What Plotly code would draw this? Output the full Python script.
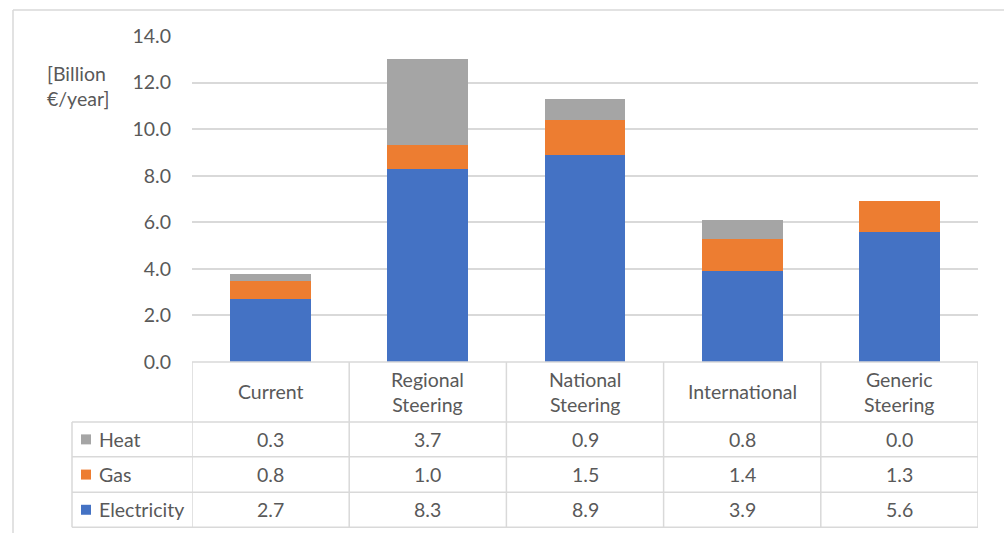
import plotly.graph_objects as go

categories = ["Current", "Regional Steering", "National Steering", "International", "Generic Steering"]
header_labels = ["Current", "Regional<br>Steering", "National<br>Steering", "International", "Generic<br>Steering"]
electricity = [2.7, 8.3, 8.9, 3.9, 5.6]
gas = [0.8, 1.0, 1.5, 1.4, 1.3]
heat = [0.3, 3.7, 0.9, 0.8, 0.0]
series_names = ["Heat", "Gas", "Electricity"]
y_ticks = [0, 2, 4, 6, 8, 10, 12, 14]
y_title = "[Billion<br>€/year]"

W, H = 1004, 533
L, R, T, B = 192, 978, 36, 362.5
C_ELEC, C_GAS, C_HEAT = "#4472C4", "#ED7D31", "#A5A5A5"
TXT = "#595959"
GRID = "#D9D9D9"
FONT = "Lato"
FS = 19.5

def pyp(p):
    return (B - p) / (B - T)

def pxp(p):
    return (p - L) / (R - L)

fig = go.Figure()
for name, vals, col in [("Electricity", electricity, C_ELEC), ("Gas", gas, C_GAS), ("Heat", heat, C_HEAT)]:
    fig.add_trace(go.Bar(x=categories, y=vals, name=name, marker=dict(color=col, line_width=0),
                         showlegend=False))

shapes = []
annotations = []
line = dict(color=GRID, width=1.5)

# outer chart border (left and top)
shapes.append(dict(type="line", xref="paper", yref="paper", x0=pxp(13), x1=pxp(W + 5), y0=pyp(10), y1=pyp(10), line=line))
shapes.append(dict(type="line", xref="paper", yref="paper", x0=pxp(13), x1=pxp(13), y0=pyp(10), y1=pyp(H + 5), line=line))

# table geometry
row_bounds = [362.5, 422.5, 457.5, 493, 528]
n = len(categories)
# horizontal lines
shapes.append(dict(type="line", xref="x", yref="paper", x0=-0.5, x1=n - 0.5, y0=pyp(row_bounds[0]), y1=pyp(row_bounds[0]), line=line))
for rb in row_bounds[1:]:
    shapes.append(dict(type="line", xref="paper", yref="paper", x0=pxp(72), x1=1, y0=pyp(rb), y1=pyp(rb), line=line))
# vertical lines
for i in range(n + 1):
    shapes.append(dict(type="line", xref="x", yref="paper", x0=i - 0.5, x1=i - 0.5,
                       y0=pyp(row_bounds[0]), y1=pyp(row_bounds[-1]), line=line))
shapes.append(dict(type="line", xref="paper", yref="paper", x0=pxp(72), x1=pxp(72),
                   y0=pyp(row_bounds[1]), y1=pyp(row_bounds[-1]), line=line))

# header
for i, lab in enumerate(header_labels):
    annotations.append(dict(x=i, y=pyp((row_bounds[0] + row_bounds[1]) / 2), xref="x", yref="paper",
                            text=lab, showarrow=False, font=dict(family=FONT, size=FS, color=TXT),
                            xanchor="center", yanchor="middle"))

rows = [("Heat", heat, C_HEAT), ("Gas", gas, C_GAS), ("Electricity", electricity, C_ELEC)]
for r, (name, vals, col) in enumerate(rows):
    cy = (row_bounds[r + 1] + row_bounds[r + 2]) / 2
    shapes.append(dict(type="rect", xref="paper", yref="paper", x0=pxp(81), x1=pxp(91),
                       y0=pyp(cy - 5), y1=pyp(cy + 5), fillcolor=col, line_width=0))
    annotations.append(dict(x=pxp(96.5), y=pyp(cy), xref="paper", yref="paper", text=name, showarrow=False,
                            font=dict(family=FONT, size=FS, color=TXT), xanchor="left", yanchor="middle"))
    for i, v in enumerate(vals):
        annotations.append(dict(x=i, y=pyp(cy), xref="x", yref="paper", text=f"{v:.1f}", showarrow=False,
                                font=dict(family=FONT, size=FS, color=TXT), xanchor="center", yanchor="middle"))

annotations.append(dict(x=pxp(78), y=pyp(86), xref="paper", yref="paper", text=y_title, showarrow=False,
                        font=dict(family=FONT, size=FS, color=TXT), xanchor="center", yanchor="middle",
                        align="left"))

fig.update_layout(
    width=W, height=H,
    margin=dict(l=L, r=W - R, t=T, b=H - B, pad=0),
    barmode="stack",
    bargap=0.487,
    plot_bgcolor="white", paper_bgcolor="white",
    font=dict(family=FONT, size=FS, color=TXT),
    xaxis=dict(range=[-0.5, n - 0.5], showticklabels=False, showgrid=False, zeroline=False, showline=False,
               fixedrange=True),
    yaxis=dict(range=[0, 14], tickvals=y_ticks, tickformat=".1f", showgrid=True, gridcolor=GRID, gridwidth=1.5,
               zeroline=False, showline=False, ticks="", ticklabelstandoff=20,
               tickfont=dict(family=FONT, size=FS, color=TXT)),
    shapes=shapes,
    annotations=annotations,
)

fig.write_html("out.html")
